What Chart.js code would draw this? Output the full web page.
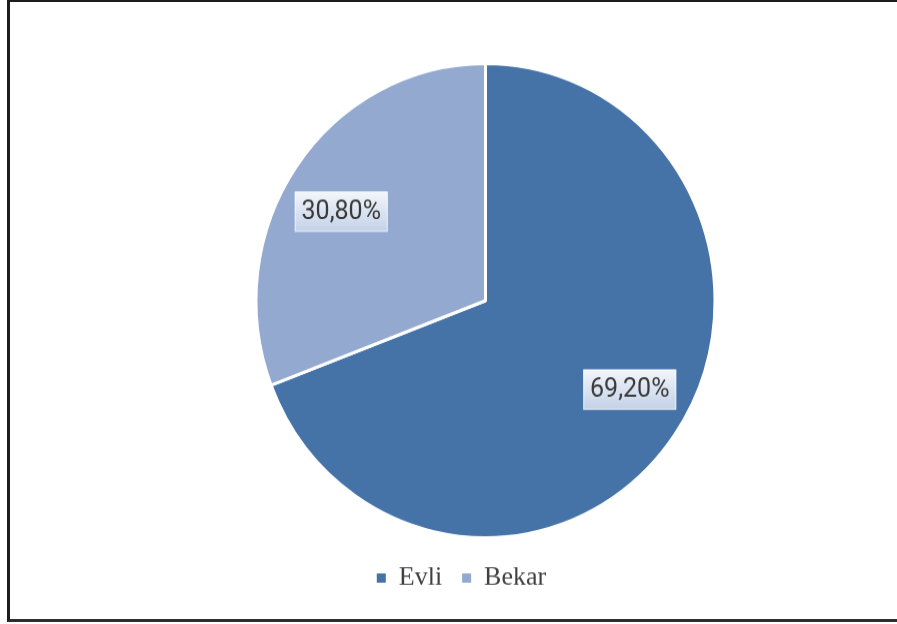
<!DOCTYPE html>
<html>
<head>
<meta charset="utf-8">
<script src="https://cdn.jsdelivr.net/npm/chart.js"></script>
<style>
  html, body { margin: 0; padding: 0; background: #fff; overflow: hidden; }
  #frame {
    position: absolute; left: 7px; top: 0; width: 900px; height: 617px;
    border-left: 3px solid #1c1c1c; border-top: 2px solid #1c1c1c; border-bottom: 3px solid #2e2e2e;
  }
  #pie { position: absolute; left: 0; top: 0; }
</style>
</head>
<body>
<canvas id="pie" width="897" height="604" style="width:897px;height:624px"></canvas>
<div id="frame"></div>
<script>
// data
const categories = ['Evli', 'Bekar'];
const shares = [69.2, 30.8];

const sliceColors = ['#4572A7', '#93A9CF'];

// value boxes on the slices (set a bit counter-clockwise of the middle, like the original)
const valueBoxes = {
  id: 'valueBoxes',
  afterDatasetsDraw(chart) {
    const ctx = chart.ctx;
    const arcs = chart.getDatasetMeta(0).data;
    arcs.forEach((arc, i) => {
      const p = arc.getProps(['x', 'y', 'startAngle', 'endAngle', 'outerRadius'], true);
      const mid = (p.startAngle + p.endAngle) / 2 - 0.065;
      const cx = p.x + Math.cos(mid) * p.outerRadius * 0.732;
      const cy = p.y + Math.sin(mid) * p.outerRadius * 0.732;
      const w = 93, h = 39;
      const g = ctx.createLinearGradient(0, cy - h / 2, 0, cy + h / 2);
      g.addColorStop(0, '#f3f6fb');
      g.addColorStop(1, '#c3d1e7');
      ctx.save();
      ctx.fillStyle = g;
      ctx.fillRect(cx - w / 2, cy - h / 2, w, h);
      ctx.strokeStyle = 'rgba(255,255,255,0.6)';
      ctx.lineWidth = 1;
      ctx.strokeRect(cx - w / 2 + 0.5, cy - h / 2 + 0.5, w - 1, h - 1);
      ctx.fillStyle = '#3a3a3a';
      ctx.font = '25px Roboto';
      ctx.textAlign = 'center';
      ctx.textBaseline = 'middle';
      ctx.fillText(shares[i].toFixed(2).replace('.', ',') + '%', cx, cy + 1);
      ctx.restore();
    });
  }
};

// legend sits a little left of the pie centre
const legendShift = {
  id: 'legendShift',
  afterLayout(chart) {
    chart.legend.left -= 24;
    chart.legend.right -= 24;
  }
};

var ctx = document.getElementById('pie').getContext('2d');
var chart = new Chart(ctx, {
  type: 'pie',
  data: {
    labels: categories,
    datasets: [{
      data: shares,
      backgroundColor: sliceColors,
      borderColor: '#ffffff',
      borderWidth: 3,
      radius: 229.5
    }]
  },
  options: {
    responsive: false,
    animation: false,
    devicePixelRatio: 1,
    layout: { padding: { top: 55.5, bottom: 21.5, left: 74, right: 0 } },
    plugins: {
      tooltip: { enabled: false },
      legend: {
        position: 'bottom',
        labels: {
          boxWidth: 9,
          boxHeight: 9,
          padding: 20,
          color: '#404040',
          font: { family: 'Liberation Serif', size: 26 },
          generateLabels: (c) => Chart.overrides.doughnut.plugins.legend.labels.generateLabels(c)
            .map(l => Object.assign(l, { lineWidth: 0 }))
        }
      }
    }
  },
  plugins: [valueBoxes, legendShift]
});
</script>
</body>
</html>
